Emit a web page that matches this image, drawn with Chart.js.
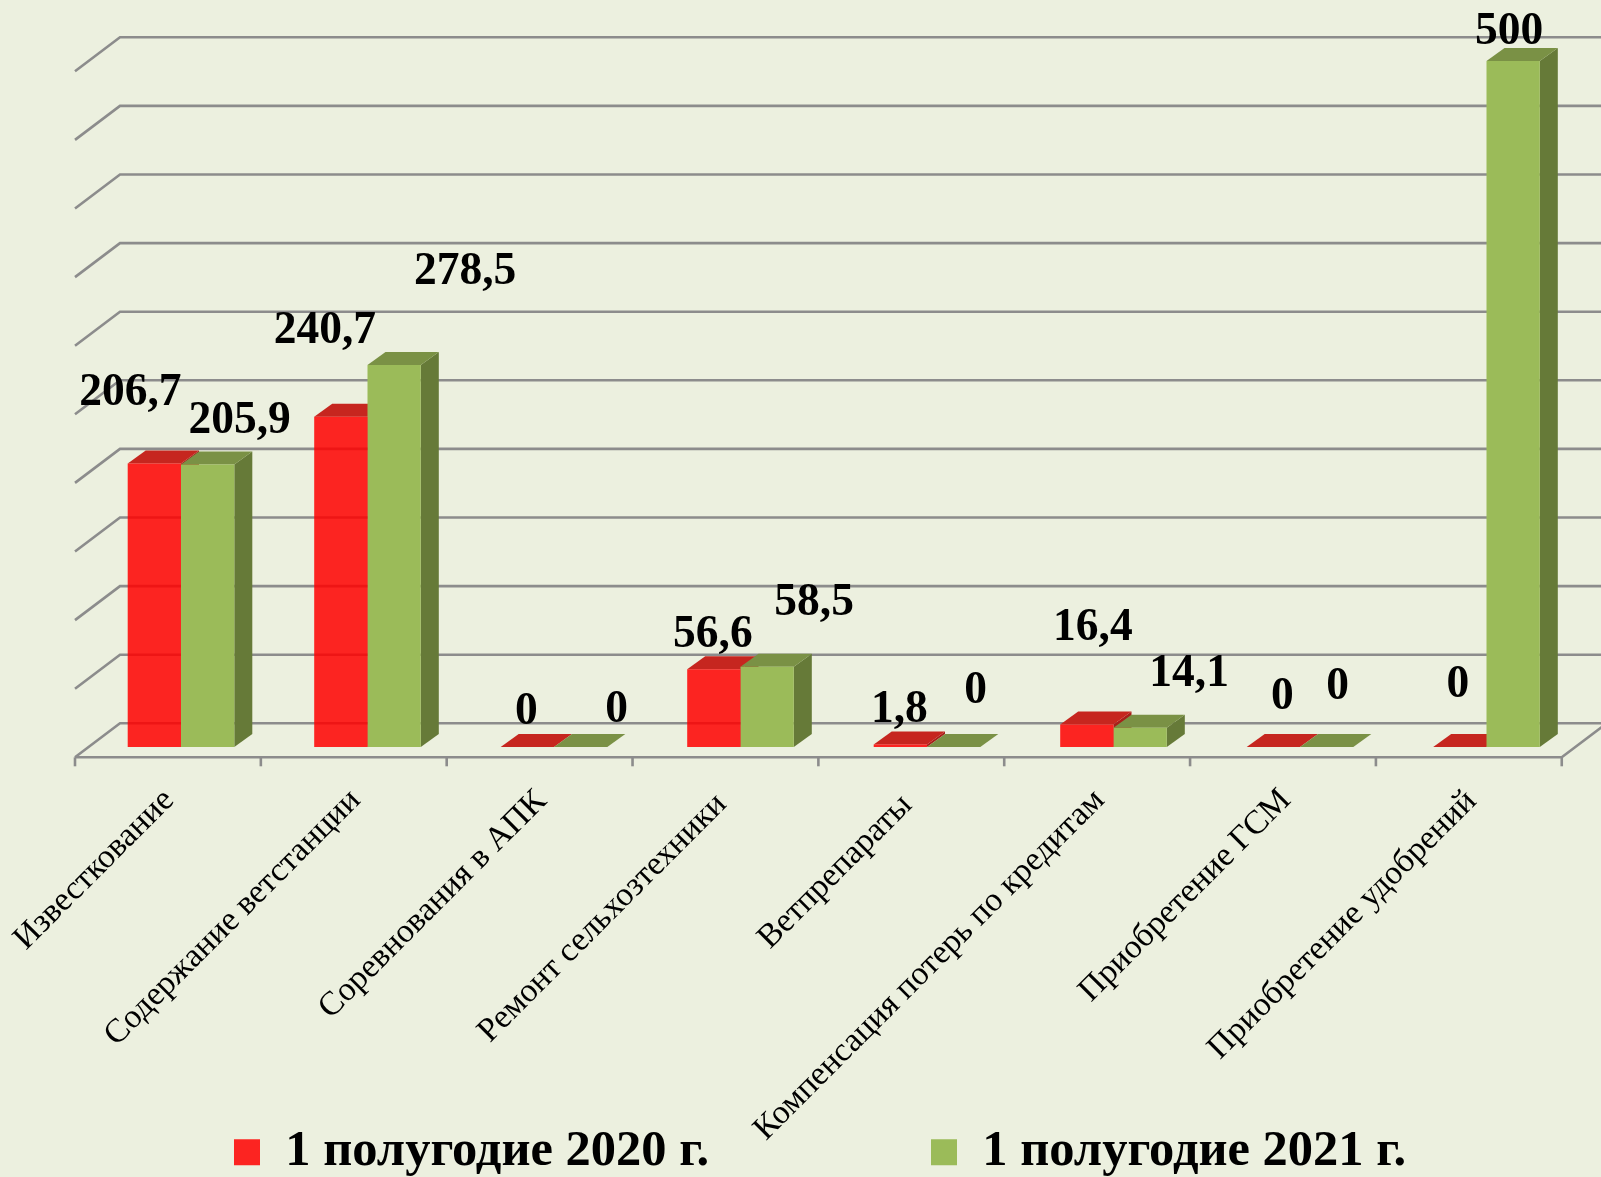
<!DOCTYPE html>
<html><head><meta charset="utf-8">
<style>html,body{margin:0;padding:0;background:#ECF0DF;overflow:hidden}canvas{display:block}</style>
<script src="https://cdn.jsdelivr.net/npm/chart.js@4"></script>
</head><body><canvas id="c" width="1601" height="1177"></canvas>
<script>
const categories = ["Известкование","Содержание ветстанции","Соревнования в АПК","Ремонт сельхозтехники","Ветпрепараты","Компенсация потерь по кредитам","Приобретение ГСМ","Приобретение удобрений"];
const series2020 = [206.7,240.7,0,56.6,1.8,16.4,0,0];
const series2021 = [205.9,278.5,0,58.5,0,14.1,0,500];
const yTickStep = 50;
const yMax = 500;
const name2020 = "1 полугодие 2020 г.";
const name2021 = "1 полугодие 2021 г.";
// manual label offsets relative to the top-centre of each bar
const labelOffset2020 = [[-24,-70],[-16,-86],[-1,-35],[-1,-34],[-1,-34],[6,-96],[9,-50],[-2,-62]];
const labelOffset2021 = [[32,-43],[71,-93],[36,-37],[47,-63],[22,-56],[49,-53],[11,-60],[-4,-29]];
// small per-label corrections of the rotated axis text
const tickNudge = [[-2,-2],[-2,-2],[-2.5,-1],[-9,2],[-10,3],[-4,-2],[-4,-2],[-5,-1]];

const SERIF = '"Liberation Serif","Times New Roman",serif';
const BG = '#ECF0DF', GRID = '#8C8C8C';
const DX = 18, DY = 13;           // bar depth
const WALL_DX = 45, WALL_DY = 34; // floor depth
const WALL_SHIFT = 23.7;          // back wall above the bar plane

function poly(ctx, pts, fill){
  ctx.beginPath(); pts.forEach((p,i)=> i?ctx.lineTo(p[0],p[1]):ctx.moveTo(p[0],p[1]));
  ctx.closePath(); ctx.fillStyle=fill; ctx.fill();
}
const box3d = {
  id:'box3d',
  afterLayout(chart){
    const lg = chart.legend, pad = lg.options.labels.padding;
    lg.maxWidth = 4000; lg.fit();
    lg.left = 234 - pad; lg.right = 4000;
    lg.top = 1127 - pad;
    const xs = chart.scales.x;
    xs.getLabelItems(chart.chartArea).forEach((it,i)=>{
      it.options.translation[0] += tickNudge[i][0];
      it.options.translation[1] += tickNudge[i][1];
    });
  },
  beforeDraw(chart){
    const c = chart.ctx; c.save(); c.fillStyle=BG; c.fillRect(0,0,chart.width,chart.height); c.restore();
  },
  beforeDatasetsDraw(chart){
    const c = chart.ctx, xs = chart.scales.x, ys = chart.scales.y;
    c.save();
    const fl = xs.left - 12.75, fr = xs.right - 18;
    const wl = fl + WALL_DX, wr = fr + WALL_DX;
    c.strokeStyle = GRID; c.lineWidth = 2.6;
    ys.ticks.forEach(t=>{
      const y = ys.getPixelForValue(t.value) - WALL_SHIFT;
      c.beginPath(); c.moveTo(fl,y+WALL_DY); c.lineTo(wl,y); c.lineTo(wr,y); c.stroke();
    });
    const fy = ys.getPixelForValue(0) - WALL_SHIFT + WALL_DY;
    c.beginPath(); c.moveTo(fl,fy); c.lineTo(fr,fy); c.lineTo(wr,fy-WALL_DY); c.stroke();
    for(let i=0;i<=categories.length;i++){
      const x = fl + (fr-fl)*i/categories.length;
      c.beginPath(); c.moveTo(x,fy); c.lineTo(x,fy+9); c.stroke();
    }
    // depth faces: red first, green on top of it
    const faces = [['#C6261F','#A81F1A'],['#7A9145','#667A38']];
    [0,1].forEach(d=>{
      chart.getDatasetMeta(d).data.forEach(b=>{
        const l=b.x-b.width/2, r=b.x+b.width/2, t=b.y, base=b.base;
        poly(c,[[r,t],[r+DX,t-DY],[r+DX,base-DY],[r,base]],faces[d][1]);
        poly(c,[[l,t],[l+DX,t-DY],[r+DX,t-DY],[r,t]],faces[d][0]);
      });
    });
    c.restore();
  },
  afterDatasetsDraw(chart){
    const c = chart.ctx;
    c.save();
    c.font = 'bold 45.5px '+SERIF; c.fillStyle='#000'; c.textAlign='center'; c.textBaseline='middle';
    [[series2020,labelOffset2020],[series2021,labelOffset2021]].forEach(([vals,off],d)=>{
      chart.getDatasetMeta(d).data.forEach((b,i)=>{
        c.fillText(String(vals[i]).replace('.',','), b.x+off[i][0], b.y+off[i][1]);
      });
    });
    c.restore();
  }
};
new Chart(document.getElementById('c'),{
  type:'bar',
  data:{labels:categories,datasets:[
    {label:name2020,data:series2020,backgroundColor:'rgba(255,0,0,0.85)',borderWidth:0,categoryPercentage:0.5716,barPercentage:1},
    {label:name2021,data:series2021,backgroundColor:'#9BBB59',borderWidth:0,categoryPercentage:0.5716,barPercentage:1}
  ]},
  options:{
    responsive:false,animation:false,devicePixelRatio:1,
    layout:{padding:{left:87.75,right:21.25,top:61,bottom:0}},
    plugins:{
      tooltip:{enabled:false},
      legend:{position:'bottom',align:'start',maxHeight:10,
        labels:{boxWidth:26,boxHeight:26,padding:222,color:'#000',font:{family:SERIF,size:50.5,weight:'bold'}}}
    },
    scales:{
      x:{grid:{display:false,drawTicks:false},border:{display:false},
        afterFit(s){s.height=420;s.paddingLeft=0;s.paddingRight=0;},
        ticks:{autoSkip:false,minRotation:45,maxRotation:45,padding:36,labelOffset:-10,color:'#000',font:{family:SERIF,size:33.6}}},
      y:{display:false,min:0,max:yMax,ticks:{stepSize:yTickStep}}
    }
  },
  plugins:[box3d]
});
</script></body></html>
